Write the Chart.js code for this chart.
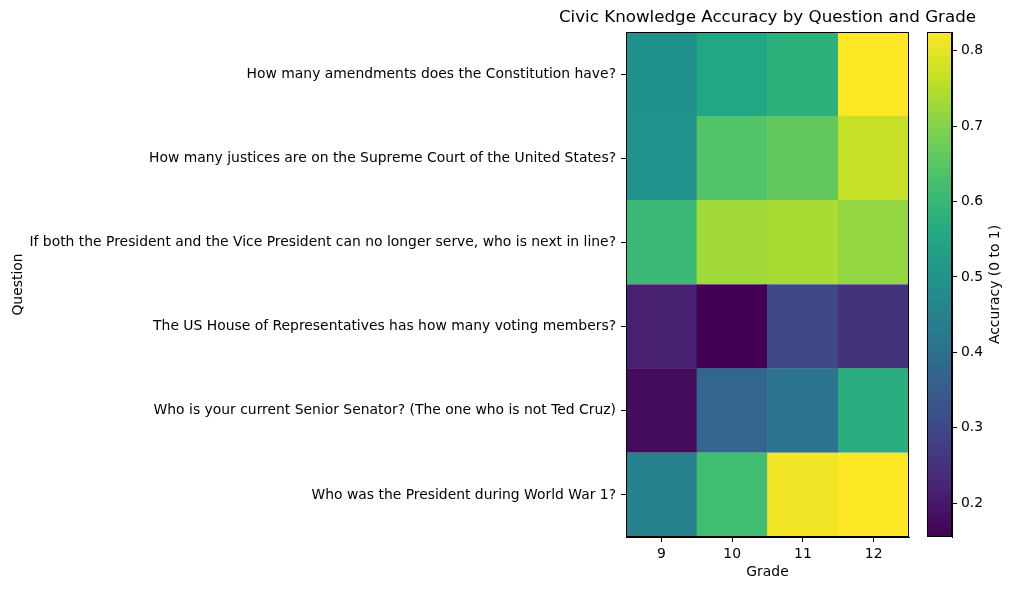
<!DOCTYPE html>
<html lang="en">
<head>
  <meta charset="UTF-8">
  <title>Civic Knowledge Accuracy by Question and Grade</title>
  <style>
    body { margin: 0; background: #fff; }
    #wrap { position: relative; width: 1013px; height: 590px; }
    #heat-box { position: absolute; left: 0; top: 0; width: 1013px; height: 590px; }
    #bar-box { position: absolute; left: 913px; top: 0; width: 100px; height: 590px; }
  </style>
</head>
<body>
  <div id="wrap">
    <div id="heat-box"><canvas id="heatmap"></canvas></div>
    <div id="bar-box"><canvas id="colorbar"></canvas></div>
  </div>

  <script src="https://cdn.jsdelivr.net/npm/chart.js"></script>
  <script>
    // data (rows top to bottom, columns = grades)
    const grades = ['9', '10', '11', '12'];
    const questions = [
      'How many amendments does the Constitution have?',
      'How many justices are on the Supreme Court of the United States?',
      'If both the President and the Vice President can no longer serve, who is next in line?',
      'The US House of Representatives has how many voting members?',
      'Who is your current Senior Senator? (The one who is not Ted Cruz)',
      'Who was the President during World War 1?'
    ];
    const amendments = [0.490, 0.554, 0.580, 0.825];
    const justices   = [0.493, 0.641, 0.662, 0.766];
    const successor  = [0.604, 0.729, 0.737, 0.716];
    const house      = [0.214, 0.155, 0.301, 0.251];
    const senator    = [0.174, 0.375, 0.410, 0.574];
    const ww1        = [0.452, 0.618, 0.812, 0.825];
    const rows = [amendments, justices, successor, house, senator, ww1];

    const vmin = 0.155;
    const vmax = 0.825;
    const cbarTicks = [0.2, 0.3, 0.4, 0.5, 0.6, 0.7, 0.8];

    // viridis anchors
    const viridis = ['#440154', '#482475', '#414487', '#355f8d', '#2a788e', '#21918c',
                     '#22a884', '#44bf70', '#7ad151', '#bddf26', '#fde725'];

    function hexRgb(h) {
      return [parseInt(h.slice(1, 3), 16), parseInt(h.slice(3, 5), 16), parseInt(h.slice(5, 7), 16)];
    }
    function colorFor(v) {
      let t = (v - vmin) / (vmax - vmin);
      t = Math.max(0, Math.min(1, t));
      const pos = t * (viridis.length - 1);
      const i = Math.min(Math.floor(pos), viridis.length - 2);
      const f = pos - i;
      const a = hexRgb(viridis[i]), b = hexRgb(viridis[i + 1]);
      const c = a.map((x, k) => Math.round(x + (b[k] - x) * f));
      return `rgb(${c[0]}, ${c[1]}, ${c[2]})`;
    }

    Chart.defaults.font.family = 'DejaVu Sans';
    Chart.defaults.font.size = 13.9;
    Chart.defaults.color = '#000';

    const frame = {
      id: 'frame',
      afterDatasetsDraw(chart) {
        const { ctx, chartArea: a } = chart;
        ctx.save();
        ctx.strokeStyle = '#000';
        ctx.lineWidth = 1;
        ctx.strokeRect(Math.round(a.left) + 0.5, Math.round(a.top) + 0.5,
                       Math.round(a.right - a.left) - 1, Math.round(a.bottom - a.top) - 1);
        ctx.restore();
      }
    };

    const topTitle = {
      id: 'topTitle',
      afterDraw(chart) {
        const { ctx, chartArea: a } = chart;
        ctx.save();
        ctx.font = '16.7px "DejaVu Sans"';
        ctx.fillStyle = '#000';
        ctx.textAlign = 'center';
        ctx.textBaseline = 'middle';
        ctx.fillText('Civic Knowledge Accuracy by Question and Grade', (a.left + a.right) / 2, 18);
        ctx.restore();
      }
    };

    // heatmap as stacked unit bars, bottom row first
    const nRows = rows.length;
    const datasets = rows.slice().reverse().map((r, i) => ({
      label: questions[nRows - 1 - i],
      data: grades.map(() => 1),
      backgroundColor: r.map(colorFor),
      borderColor: r.map(colorFor),
      borderWidth: 0.5,
      barPercentage: 1,
      categoryPercentage: 1
    }));

    new Chart(document.getElementById('heatmap'), {
      type: 'bar',
      data: { labels: grades, datasets: datasets },
      plugins: [frame, topTitle],
      options: {
        responsive: true,
        maintainAspectRatio: false,
        animation: false,
        layout: { padding: { top: 32, right: 104, left: 0, bottom: 0 } },
        plugins: { legend: { display: false }, tooltip: { enabled: true } },
        scales: {
          x: {
            stacked: true,
            offset: true,
            grid: { offset: false, drawOnChartArea: false, tickLength: 5, color: '#000' },
            border: { display: true, color: '#000' },
            ticks: { padding: 4 },
            title: { display: true, text: 'Grade', padding: { top: 2, bottom: 9 } },
            afterFit(scale) { scale.height = 53; }
          },
          y: {
            stacked: true,
            min: 0,
            max: nRows,
            afterBuildTicks(scale) {
              scale.ticks = questions.map((q, i) => ({ value: i + 0.5 }));
            },
            grid: { drawOnChartArea: false, tickLength: 5, color: '#000' },
            border: { display: true, color: '#000' },
            ticks: {
              padding: 5,
              callback: (value) => questions[nRows - 1 - Math.floor(value)]
            },
            title: { display: true, text: 'Question', padding: { top: 10, bottom: 0 } },
            afterFit(scale) { scale.width = 626; }
          }
        }
      }
    });

    const cbarLabel = {
      id: 'cbarLabel',
      afterDraw(chart) {
        const { ctx, chartArea: a } = chart;
        ctx.save();
        ctx.translate(82, (a.top + a.bottom) / 2);
        ctx.rotate(-Math.PI / 2);
        ctx.font = '13.9px "DejaVu Sans"';
        ctx.fillStyle = '#000';
        ctx.textAlign = 'center';
        ctx.textBaseline = 'middle';
        ctx.fillText('Accuracy (0 to 1)', 0, 0);
        ctx.restore();
      }
    };

    new Chart(document.getElementById('colorbar'), {
      type: 'bar',
      data: {
        labels: ['cbar'],
        datasets: [{
          data: [[vmin, vmax]],
          barPercentage: 1,
          categoryPercentage: 1,
          borderWidth: 0,
          backgroundColor(c) {
            const { chart } = c;
            const a = chart.chartArea;
            if (!a) return viridis[5];
            const g = chart.ctx.createLinearGradient(0, a.bottom, 0, a.top);
            viridis.forEach((col, i) => g.addColorStop(i / (viridis.length - 1), col));
            return g;
          }
        }]
      },
      plugins: [frame, cbarLabel],
      options: {
        responsive: true,
        maintainAspectRatio: false,
        animation: false,
        layout: { padding: { top: 32, left: 14, right: 0, bottom: 53 } },
        plugins: { legend: { display: false }, tooltip: { enabled: false } },
        scales: {
          x: { display: false },
          y: {
            position: 'right',
            min: vmin,
            max: vmax,
            afterBuildTicks(scale) {
              scale.ticks = cbarTicks.map(v => ({ value: v }));
            },
            grid: { drawOnChartArea: false, tickLength: 5, color: '#000' },
            border: { display: true, color: '#000' },
            ticks: { padding: 4, callback: (v) => v.toFixed(1) },
            afterFit(scale) { scale.width = 61; }
          }
        }
      }
    });
  </script>
</body>
</html>
